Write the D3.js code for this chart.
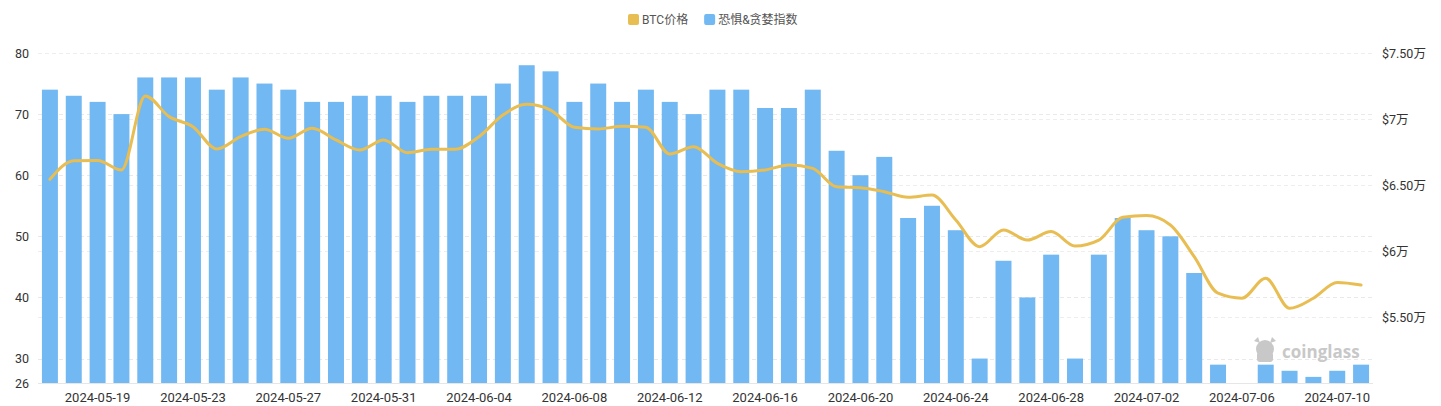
<!DOCTYPE html>
<html>
<head>
<meta charset="utf-8">
<script src="https://cdn.jsdelivr.net/npm/d3@7"></script>
<style>
  body { margin: 0; background: #fff; }
  svg { display: block; font-family: Roboto, "Noto Sans CJK SC", sans-serif; }
</style>
</head>
<body>
<div id="chart"></div>
<script>
// dates 2024-05-17 .. 2024-07-11
let dates = d3.timeDays(new Date(2024, 4, 17), new Date(2024, 6, 12)).map(d3.timeFormat('%Y-%m-%d'));

let fearGreed = [74, 73, 72, 70, 76, 76, 76, 74, 76, 75, 74, 72, 72, 73,
    73, 72, 73, 73, 73, 75, 78, 77, 72, 75, 72, 74, 72, 70,
    74, 74, 71, 71, 74, 64, 60, 63, 53, 55, 51, 30, 46, 40,
    47, 30, 47, 53, 51, 50, 44, 29, 26, 29, 28, 27, 28, 29];

let btcPrice = [65430, 66840, 66860, 66140, 71740, 70180, 69420, 67730, 68660, 69220, 68540, 69300, 68410, 67650,
    68410, 67450, 67700, 67700, 68660, 70300, 71110, 70680, 69370, 69240, 69450, 69370, 67350, 67900,
    66640, 66010, 66140, 66520, 66260, 64870, 64800, 64490, 64070, 64240, 62350, 60330, 61590, 60830,
    61470, 60380, 60830, 62550, 62680, 61970, 59570, 56800, 56420, 57930, 55660, 56420, 57610, 57420];

let leftTicks = [26, 30, 40, 50, 60, 70, 80];
let rightTicks = [55000, 60000, 65000, 70000, 75000];
let legendItems = [
    { name: 'BTC价格', color: '#E8BD52' },
    { name: '恐惧&贪婪指数', color: '#72B8F2' }
];

let W = 1441, H = 406;
let plot = { left: 38, right: 1373, top: 53, bottom: 383 };

let svg = d3.select('#chart').append('svg')
    .attr('width', W)
    .attr('height', H);

let x = d3.scaleBand()
    .domain(dates)
    .range([plot.left, plot.right])
    .paddingInner(0.33)
    .paddingOuter(0.165);

let yL = d3.scaleLinear().domain([26, 80]).range([plot.bottom, plot.top]);
let yR = d3.scaleLinear().domain([50000, 75000]).range([plot.bottom, plot.top]);

// grid lines (both axes)
let grid = svg.append('g');
grid.selectAll('.gl')
    .data(leftTicks.filter(d => d > 26))
    .enter().append('line')
    .attr('x1', plot.left).attr('x2', plot.right)
    .attr('y1', d => Math.round(yL(d)) + 0.5).attr('y2', d => Math.round(yL(d)) + 0.5)
    .attr('stroke', '#e9e9e9')
    .attr('stroke-dasharray', '4,3');
grid.selectAll('.gr')
    .data(rightTicks)
    .enter().append('line')
    .attr('x1', plot.left).attr('x2', plot.right)
    .attr('y1', d => Math.round(yR(d)) + 0.5).attr('y2', d => Math.round(yR(d)) + 0.5)
    .attr('stroke', '#eeeeee')
    .attr('stroke-dasharray', '4,3');
grid.append('line')
    .attr('x1', plot.left).attr('x2', plot.right)
    .attr('y1', plot.bottom + 0.5).attr('y2', plot.bottom + 0.5)
    .attr('stroke', '#e6e6e6');

// watermark
let wm = svg.append('g').attr('fill', '#c8c8c8');
wm.append('circle').attr('cx', 1265).attr('cy', 349).attr('r', 9);
wm.append('rect').attr('x', 1257).attr('y', 352).attr('width', 16).attr('height', 10).attr('rx', 3);
wm.append('path').attr('d', 'M1254,341 L1258,337 L1260,343 Z M1276,341 L1272,337 L1270,343 Z');
wm.append('text')
    .attr('x', 1282).attr('y', 358)
    .style('font-family', '"Open Sans", Roboto, sans-serif')
    .style('font-size', '17px')
    .style('font-weight', 'bold')
    .text('coinglass');

// bars
svg.append('g').selectAll('rect')
    .data(fearGreed)
    .enter().append('rect')
    .attr('x', (d, i) => x(dates[i]))
    .attr('width', x.bandwidth())
    .attr('y', d => yL(d))
    .attr('height', d => plot.bottom - yL(d))
    .attr('fill', '#72B8F2');

// btc line
let line = d3.line()
    .x((d, i) => x(dates[i]) + x.bandwidth() / 2)
    .y(d => yR(d))
    .curve(d3.curveMonotoneX);

svg.append('path')
    .datum(btcPrice)
    .attr('d', line)
    .attr('fill', 'none')
    .attr('stroke', '#E8BD52')
    .attr('stroke-width', 3)
    .attr('stroke-linecap', 'round');

// left axis labels
svg.append('g').selectAll('text')
    .data(leftTicks)
    .enter().append('text')
    .attr('x', 29)
    .attr('y', d => yL(d) + 4.5)
    .attr('text-anchor', 'end')
    .style('font-size', '12.5px')
    .style('fill', '#333')
    .text(d => d);

// right axis labels
let fmtR = function(v) {
    let w = v / 10000;
    return '$' + (Number.isInteger(w) ? w : w.toFixed(2)) + '万';
};
svg.append('g').selectAll('text')
    .data(rightTicks)
    .enter().append('text')
    .attr('x', 1382)
    .attr('y', d => yR(d) + 4.5)
    .attr('text-anchor', 'start')
    .style('font-size', '12.5px')
    .style('fill', '#333')
    .text(fmtR);

// x labels, every 4th day from 05-19
svg.append('g').selectAll('text')
    .data(dates.filter((d, i) => i >= 2 && (i - 2) % 4 === 0))
    .enter().append('text')
    .attr('x', d => x(d) + x.bandwidth() / 2)
    .attr('y', 402)
    .attr('text-anchor', 'middle')
    .style('font-size', '13px')
    .style('fill', '#333')
    .text(d => d);

// legend
let legend = svg.append('g');
let lx = 628;
legendItems.forEach(function(item, i) {
    let g = legend.append('g').attr('transform', 'translate(' + lx + ',14)');
    g.append('rect')
        .attr('width', 11).attr('height', 11).attr('rx', 2)
        .attr('fill', item.color);
    let t = g.append('text')
        .attr('x', 14).attr('y', 10)
        .style('font-size', '12px')
        .style('fill', '#555')
        .text(item.name);
    lx += 14 + t.node().getComputedTextLength() + 16;
});
</script>
</body>
</html>
